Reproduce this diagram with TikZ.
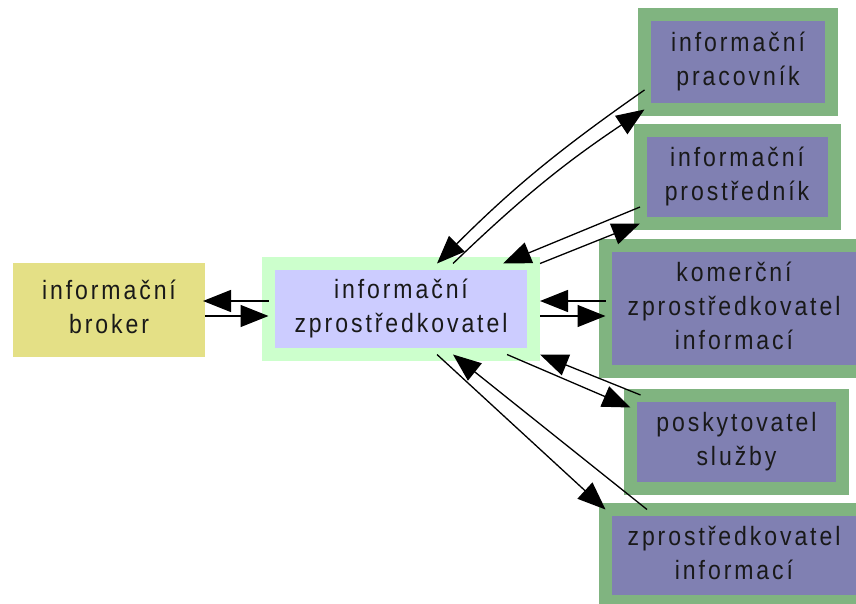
\documentclass[tikz,border=0pt]{standalone}
\usepackage{fontspec}
\setmainfont{Liberation Sans}[LetterSpace=11,FakeStretch=0.87]
\usetikzlibrary{arrows.meta}
\definecolor{ybox}{RGB}{228,224,134}
\definecolor{cfr}{RGB}{204,255,204}
\definecolor{cin}{RGB}{204,204,255}
\definecolor{gfr}{RGB}{128,180,128}
\definecolor{gin}{RGB}{128,128,178}
\definecolor{txtcol}{RGB}{25,25,25}
\begin{document}
\begin{tikzpicture}[x=1pt,y=-1pt,
  txt/.style={align=center,text=txtcol,font=\fontsize{26.5}{34}\selectfont,inner sep=0pt,outer sep=0pt},
  frame/.style={txt,draw=gfr,fill=gin,line width=13pt},
  arr/.style={-{Triangle[length=28pt,width=22pt]},line width=1.3pt,black}]
\useasboundingbox (0,0) rectangle (856,604);
\clip (0,0) rectangle (856,604);
% left and centre
\node[txt,fill=ybox,minimum width=192pt,minimum height=94pt] (br) at (109,310) {\strut informační\\broker\strut};
\node[txt,draw=cfr,fill=cin,line width=13pt,minimum width=265pt,minimum height=91pt] (c) at (401,309) {\strut informační\\zprostředkovatel\strut};
% right boxes
\node[frame,minimum width=187pt,minimum height=95pt] (k1) at (738,62) {\strut informační\\pracovník\strut};
\node[frame,minimum width=194pt,minimum height=93pt] (k2) at (737,177) {\strut informační\\prostředník\strut};
\node[frame,minimum width=257pt,minimum height=126pt] (k3) at (734,308.5) {\strut komerční\\zprostředkovatel\\informací\strut};
\node[frame,minimum width=212pt,minimum height=93pt] (k4) at (736.5,441.5) {\strut poskytovatel\\služby\strut};
\node[frame,minimum width=257pt,minimum height=92pt] (k5) at (734,555.5) {\strut zprostředkovatel\\informací\strut};
% connectors
\draw[arr] ([yshift=8pt]c.west) -- ([xshift=-2pt,yshift=9pt]br.east);
\draw[arr] ([yshift=-6pt]br.east) -- ([yshift=-7pt]c.west);
\draw[arr] ([yshift=7.5pt]k3.west) -- ([xshift=6.5pt,yshift=8pt]c.east);
\draw[arr] ([xshift=6.5pt,yshift=-7pt]c.east) -- ([yshift=-7.5pt]k3.west);
\draw[arr] ([yshift=-28pt]k1.west) to[bend right=5] ([xshift=36pt]c.north);
\draw[arr] ([xshift=52pt]c.north) to[bend left=5] (k1.south west);
\draw[arr] ([yshift=-30pt]k2.west) -- ([xshift=102pt]c.north);
\draw[arr] ([xshift=6.5pt]c.north east) -- (k2.south west);
\draw[arr] ([xshift=106pt]c.south) -- ([yshift=34pt]k4.west);
\draw[arr] ([xshift=10pt]k4.north west) -- ([xshift=6.5pt]c.south east);
\draw[arr] ([xshift=36pt]c.south) -- (k5.north west);
\draw[arr] ([xshift=41.5pt]k5.north west) -- ([xshift=52pt]c.south);
\end{tikzpicture}
\end{document}
